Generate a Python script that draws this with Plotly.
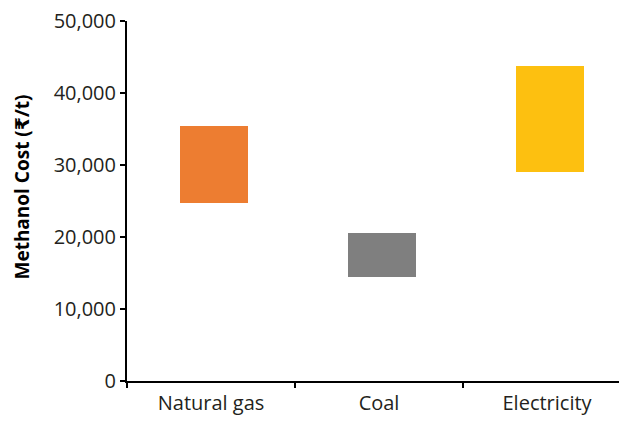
import plotly.graph_objects as go

categories = ["Natural gas", "Coal", "Electricity"]
cost_low = [24700, 14500, 29000]
cost_high = [35400, 20500, 43800]
colors = ["#ED7D31", "#7F7F7F", "#FDC010"]
y_tick_vals = [0, 10000, 20000, 30000, 40000, 50000]
y_tick_text = ["0", "10,000", "20,000", "30,000", "40,000", "50,000"]

heights = [h - l for h, l in zip(cost_high, cost_low)]

fig = go.Figure(go.Bar(
    x=categories, y=heights, base=cost_low,
    marker=dict(color=colors, line=dict(width=0)),
    width=0.405, offset=-0.1875, showlegend=False, hoverinfo="skip",
))

font_family = "Open Sans, DejaVu Sans, sans-serif"

# page body has an 8px default margin; figure sized to fit window
fig.update_layout(
    width=619, height=414,
    margin=dict(l=119, r=0, t=13, b=41),
    paper_bgcolor="white", plot_bgcolor="white",
    font=dict(family=font_family, size=20, color="#231F20"),
    bargap=0,
)
fig.update_xaxes(
    range=[-0.5, 2.476], showline=True, linecolor="#000", linewidth=2,
    ticks="outside", tickson="boundaries", ticklen=5, tickwidth=2, tickcolor="#000",
    showgrid=False, zeroline=False, ticklabelstandoff=3, ticklabeloverflow="allow",
)
fig.update_yaxes(
    range=[0, 50000], tickvals=y_tick_vals, ticktext=y_tick_text,
    showline=True, linecolor="#000", linewidth=2,
    ticks="outside", ticklen=5, tickwidth=1.5, tickcolor="#000",
    showgrid=False, zeroline=False, ticklabelstandoff=0, ticklabeloverflow="allow",
)
fig.add_annotation(
    text="<b>Methanol Cost (₹/t)</b>", textangle=-90,
    xref="paper", yref="paper", x=-106/500, y=(372.5 - 179) / 360,
    xanchor="center", yanchor="middle", showarrow=False,
    font=dict(family=font_family, size=19, color="#000"),
)

fig.write_html("out.html")
